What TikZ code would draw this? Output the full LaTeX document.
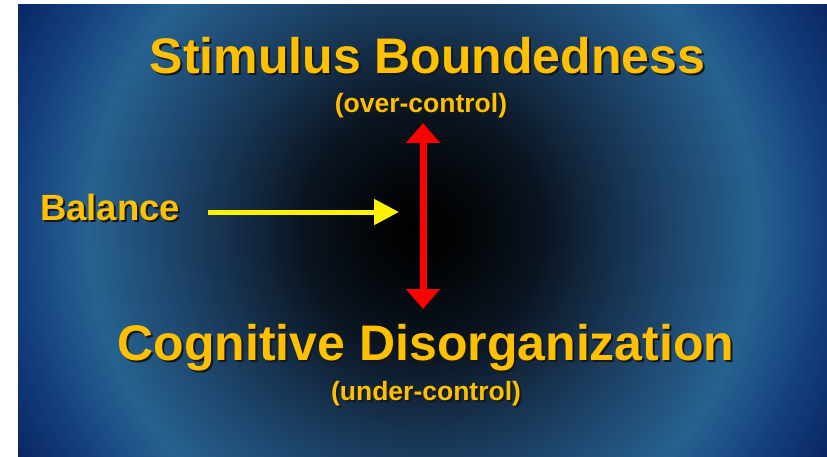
\documentclass[tikz,border=0pt]{standalone}
\usepackage{fontspec}
\setmainfont{Liberation Sans}
\usetikzlibrary{arrows.meta}
\definecolor{gold}{HTML}{FFC000}
\definecolor{shadowc}{HTML}{14181C}
\newcommand\shtext[1]{\makebox[0pt][l]{\hspace{2pt}\raisebox{-2pt}{\textcolor{shadowc}{#1}}}#1}
\pgfdeclareradialshading{bgshade}{\pgfpoint{0bp}{0bp}}{%
rgb(0bp)=(0,0,0);
rgb(2.13bp)=(.008,.016,.024);
rgb(6.38bp)=(.039,.078,.125);
rgb(10.64bp)=(.09,.2,.314);
rgb(13.83bp)=(.118,.282,.439);
rgb(17.71bp)=(.149,.384,.561);
rgb(19.68bp)=(.114,.314,.533);
rgb(21.54bp)=(.075,.247,.486);
rgb(25bp)=(.035,.14,.38);
rgb(50bp)=(.035,.14,.38)}
\tikzset{
  big/.style={font=\fontsize{50}{60}\selectfont\bfseries, inner sep=0pt, anchor=base, text=gold},
  small/.style={font=\fontsize{26.5}{30}\selectfont\bfseries, inner sep=0pt, anchor=base, text=gold},
  mid/.style={font=\fontsize{36.5}{42}\selectfont\bfseries, inner sep=0pt, anchor=base west, text=gold},
  redarrow/.style={draw=red, line width=7pt, {Triangle[width=33pt,length=20pt]}-{Triangle[width=33pt,length=20pt]}},
  yelarrow/.style={draw=yellow, line width=5pt, -{Triangle[width=25pt,length=25pt]}}
}
\begin{document}
\begin{tikzpicture}[x=1pt,y=-1pt]
\useasboundingbox (0,0) rectangle (827,456);
\fill[white] (0,0) rectangle (827,456);
\begin{scope}
\clip (18,4) rectangle (827,456);
\shade[shading=bgshade] (422,230) circle (470pt);
\end{scope}
% texts
\node[big] (title) at (427.5,73) {\shtext{Stimulus Boundedness}};
\node[small] (over) at (421,112) {\shtext{(over-control)}};
\node[mid] (bal) at (40,220) {\shtext{Balance}};
\node[big] (cog) at (426,360) {\shtext{Cognitive Disorganization}};
\node[small] (under) at (426,400) {\shtext{(under-control)}};
% arrows
\coordinate (rtop) at (423,123);
\coordinate (rbot) at (423,309);
\coordinate (ystart) at (208,212);
\coordinate (yend) at (399,212);
\draw[redarrow] (rtop) -- (rbot);
\draw[yelarrow] (ystart) -- (yend);
\end{tikzpicture}
\end{document}
